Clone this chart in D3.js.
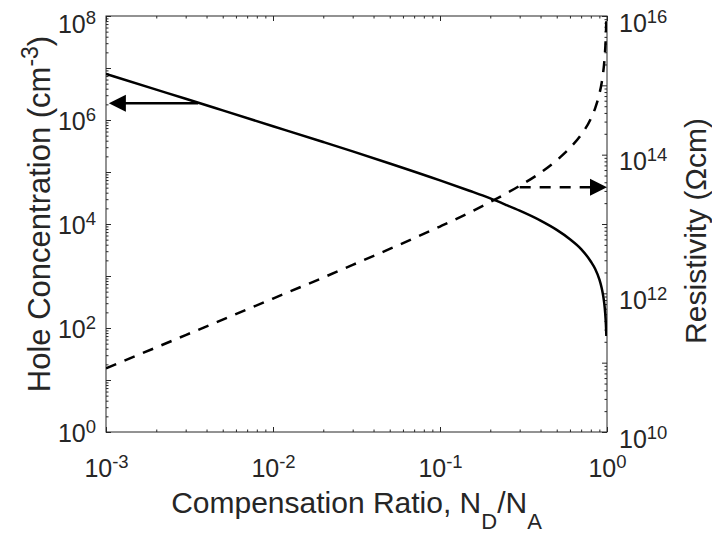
<!DOCTYPE html>
<html>
<head>
<meta charset="utf-8">
<script src="https://cdn.jsdelivr.net/npm/d3@7"></script>
<style>
  body { margin: 0; background: #fff; }
  svg { display: block; }
</style>
</head>
<body>
<div class="root"></div>
<script>
// data
var ratio       = [0.001, 0.002, 0.003, 0.005, 0.01, 0.02, 0.03, 0.05, 0.1, 0.15, 0.2, 0.25, 0.3, 0.4, 0.5, 0.6, 0.7, 0.8, 0.85, 0.9, 0.93, 0.95, 0.96, 0.97, 0.98, 0.985, 0.99, 0.991];
var holeConc    = [7.69e6, 3.84e6, 2.56e6, 1.53e6, 7.6e5, 3.77e5, 2.49e5, 1.46e5, 6.9e4, 4.36e4, 3.1e4, 2.31e4, 1.8e4, 1.16e4, 7.7e3, 5.1e3, 3.3e3, 1.9e3, 1.36e3, 860, 580, 405, 321, 238, 157, 117, 78, 70];
var resistivity = [8.3e10, 1.66e11, 2.5e11, 4.17e11, 8.4e11, 1.69e12, 2.57e12, 4.37e12, 9.2e12, 1.46e13, 2.08e13, 2.77e13, 3.56e13, 5.5e13, 8.3e13, 1.25e14, 1.94e14, 3.3e14, 4.7e14, 7.5e14, 1.1e15, 1.58e15, 1.99e15, 2.68e15, 4.07e15, 5.45e15, 8.2e15, 9.2e15];

var xTicks     = [1e-3, 1e-2, 1e-1, 1];
var xTickExp   = ["-3", "-2", "-1", "0"];
var leftTicks  = [1, 1e2, 1e4, 1e6, 1e8];
var leftExp    = ["0", "2", "4", "6", "8"];
var rightTicks = [1e10, 1e12, 1e14, 1e16];
var rightExp   = ["10", "12", "14", "16"];

// arrows [ratio, value] from -> to
var holeArrow = [[0.00356, 2.1e6], [0.00104, 2.1e6]];
var resArrow  = [[0.3, 3.4e13], [1, 3.4e13]];

var width = 712, height = 534;
var plotL = 106, plotR = 607, plotT = 16, plotB = 432;
var ink = "#262626";
var tickFont = 25;

var svg = d3.select('.root').append('svg')
            .attr("width", width)
            .attr("height", height)
            .style("font-family", "'Liberation Sans', Arial, sans-serif");

var x  = d3.scaleLog().domain([1e-3, 1]).range([plotL, plotR]);
var yL = d3.scaleLog().domain([1, 1e8]).range([plotB, plotT]);
var yR = d3.scaleLog().domain([1e10, 1e16]).range([plotB, plotT]);

function minorsOf(scale) {
  var d = scale.domain(), out = [];
  for (var e = Math.round(Math.log10(d[0])); e < Math.round(Math.log10(d[1])); e++) {
    for (var m = 2; m <= 9; m++) out.push(m * Math.pow(10, e));
  }
  return out;
}

function addAxis(axis, tx, ty) {
  var g = svg.append('g').attr("transform", "translate(" + tx + "," + ty + ")").call(axis);
  g.select(".domain").remove();
  g.selectAll(".tick line").attr("stroke", ink).attr("stroke-width", 1);
  return g;
}

// "10" with a raised exponent; baseline given relative to the tick
function supLabels(g, exps, baseFn, anchor) {
  g.selectAll(".tick text").each(function (d, i) {
    var t = d3.select(this);
    t.text(null)
     .attr("dy", null)
     .attr("y", baseFn(d))
     .attr("fill", ink)
     .attr("font-size", tickFont)
     .attr("text-anchor", anchor);
    t.append("tspan").text("10");
    t.append("tspan").attr("dy", -9).attr("font-size", tickFont * 0.74).text(exps[i]);
  });
}

// x axis bottom + top
var gxb = addAxis(d3.axisBottom(x).tickValues(xTicks).tickSize(-5).tickPadding(0), 0, plotB);
supLabels(gxb, xTickExp, function () { return 45; }, "middle");
addAxis(d3.axisBottom(x).tickValues(minorsOf(x)).tickSize(-2.5).tickFormat(""), 0, plotB);
addAxis(d3.axisTop(x).tickValues(xTicks).tickSize(-5).tickFormat(""), 0, plotT);
addAxis(d3.axisTop(x).tickValues(minorsOf(x)).tickSize(-2.5).tickFormat(""), 0, plotT);

// left axis
addAxis(d3.axisLeft(yL).tickValues(d3.range(0, 9).map(function (e) { return Math.pow(10, e); })).tickSize(-5).tickFormat(""), plotL, 0);
var gylLab = addAxis(d3.axisLeft(yL).tickValues(leftTicks).tickSize(0).tickPadding(10), plotL, 0);
gylLab.selectAll(".tick line").remove();
supLabels(gylLab, leftExp, function (d) { return Math.max(9, 32 - yL(d)); }, "end");
addAxis(d3.axisLeft(yL).tickValues(minorsOf(yL)).tickSize(-2.5).tickFormat(""), plotL, 0);

// right axis
addAxis(d3.axisRight(yR).tickValues(d3.range(10, 17).map(function (e) { return Math.pow(10, e); })).tickSize(-5).tickFormat(""), plotR, 0);
var gyrLab = addAxis(d3.axisRight(yR).tickValues(rightTicks).tickSize(0).tickPadding(12), plotR, 0);
gyrLab.selectAll(".tick line").remove();
supLabels(gyrLab, rightExp, function () { return 15; }, "start");
addAxis(d3.axisRight(yR).tickValues(minorsOf(yR)).tickSize(-2.5).tickFormat(""), plotR, 0);

// box
svg.append('rect')
   .attr("x", plotL).attr("y", plotT)
   .attr("width", plotR - plotL).attr("height", plotB - plotT)
   .attr("fill", "none").attr("stroke", ink).attr("stroke-width", 1);

// clip
svg.append('clipPath').attr("id", "plotClip")
   .append('rect').attr("x", plotL).attr("y", plotT)
   .attr("width", plotR - plotL).attr("height", plotB - plotT);

var plot = svg.append('g').attr("clip-path", "url(#plotClip)");

var pts = ratio.map(function (r, i) { return {r: r, p: holeConc[i], rho: resistivity[i]}; });

var holeLine = d3.line()
                 .x(function (d) { return x(d.r); })
                 .y(function (d) { return yL(d.p); })
                 .curve(d3.curveMonotoneX);

var resLine = d3.line()
                .x(function (d) { return x(d.r); })
                .y(function (d) { return yR(d.rho); })
                .curve(d3.curveMonotoneX);

plot.append('path').datum(pts)
    .attr("d", holeLine)
    .attr("fill", "none").attr("stroke", "#000").attr("stroke-width", 2.5);

plot.append('path').datum(pts)
    .attr("d", resLine)
    .attr("fill", "none").attr("stroke", "#000").attr("stroke-width", 2.5)
    .attr("stroke-dasharray", "11,9");

// arrows
var headLen = 17, headHalf = 8.5;

function drawArrow(a, yScale, dashed) {
  var x0 = x(a[0][0]), x1 = x(a[1][0]), yy = yScale(a[0][1]);
  var dir = x1 > x0 ? 1 : -1;
  var base = x1 - dir * headLen;
  svg.append('line')
     .attr("x1", x0).attr("y1", yy).attr("x2", base + dir * 1).attr("y2", yy)
     .attr("stroke", "#000").attr("stroke-width", 2.5)
     .attr("stroke-dasharray", dashed ? "11,9" : null);
  svg.append('path')
     .attr("d", "M" + x1 + "," + yy + "L" + base + "," + (yy - headHalf) + "L" + base + "," + (yy + headHalf) + "Z")
     .attr("fill", "#000");
}

drawArrow(holeArrow, yL, false);
drawArrow(resArrow, yR, true);

// axis titles
var xt = svg.append('text')
   .attr("x", (plotL + plotR) / 2).attr("y", 513)
   .attr("text-anchor", "middle")
   .attr("font-size", 30).attr("fill", ink);
xt.append("tspan").text("Compensation Ratio, N");
xt.append("tspan").attr("dy", 16).attr("font-size", 22).text("D");
xt.append("tspan").attr("dy", -16).text("/N");
xt.append("tspan").attr("dy", 16).attr("font-size", 22).text("A");

var yt = svg.append('text')
   .attr("transform", "translate(50,214) rotate(-90)")
   .attr("text-anchor", "middle")
   .attr("font-size", 31).attr("fill", ink);
yt.append("tspan").text("Hole Concentration (cm");
yt.append("tspan").attr("dy", -12).attr("font-size", 23).text("-3");
yt.append("tspan").attr("dy", 12).text(")");

svg.append('text')
   .attr("transform", "translate(706,231) rotate(-90)")
   .attr("text-anchor", "middle")
   .attr("font-size", 30).attr("fill", ink)
   .text("Resistivity (\u03A9cm)");
</script>
</body>
</html>
